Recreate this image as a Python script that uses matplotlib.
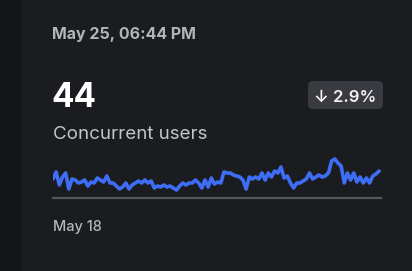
import matplotlib
matplotlib.use("Agg")
import matplotlib.pyplot as plt
from matplotlib.patches import FancyBboxPatch, Rectangle

# concurrent users over the last week (one point every ~1.7 h)
users = [31.5, 42, 22.5, 34.5, 40.5, 16.5, 31.5, 30, 25.5, 27,
         30, 21, 27, 25.5, 33, 30, 27, 36, 25.5, 25.5,
         21, 16.5, 19.5, 25.5, 16.5, 22.5, 25.5, 28.5, 25.5, 30,
         25.5, 28.5, 18, 21, 19.5, 22.5, 19.5, 21, 18, 15,
         21, 25.5, 22.5, 25.5, 25.5, 30, 25.5, 18, 30, 19.5,
         33, 24, 27, 25.5, 42, 40.5, 40.5, 37.5, 36, 34.5,
         30, 16.5, 34.5, 31.5, 34.5, 31.5, 40.5, 30, 40.5, 34.5,
         43.5, 40.5, 49.5, 33, 36, 25.5, 18, 25.5, 25.5, 28.5,
         31.5, 40.5, 31.5, 34.5, 37.5, 34.5, 36, 40.5, 58.5, 61.5,
         55.5, 51, 25.5, 40.5, 30, 40.5, 27, 34.5, 25.5, 33,
         25.5, 36, 39, 43.5]
timestamp = "May 25, 06:44 PM"
current_value = "44"
metric_name = "Concurrent users"
change_label = "\u2193 2.9%"
start_label = "May 18"

W, H = 412, 271
fig = plt.figure(figsize=(W / 100, H / 100), dpi=100)
fig.patch.set_facecolor("#141519")

# card background
card = FancyBboxPatch((21 / W, -0.2), 1.0, 1.25, boxstyle="round,pad=0,rounding_size=0.04",
                      transform=fig.transFigure, facecolor="#1b1c20", edgecolor="none",
                      mutation_aspect=W / H, zorder=-10)
fig.patches.append(card)

def fy(px):
    return 1 - px / H

fig.text(52 / W, fy(39), timestamp, fontsize=11.5, fontweight="bold", color="#b4b5b9",
         family=["Inter", "DejaVu Sans"], va="baseline", ha="left")
fig.text(51 / W, fy(107), current_value, fontsize=24, fontweight="bold", color="#ffffff",
         family=["Inter", "DejaVu Sans"], va="baseline", ha="left")
fig.text(53 / W, fy(139), metric_name, fontsize=13.5, color="#c4c5c9",
         family=["Inter", "DejaVu Sans"], va="baseline", ha="left")
fig.text(53 / W, fy(231), start_label, fontsize=10.5, fontweight="medium", color="#b4b5b9",
         family=["Inter", "DejaVu Sans"], va="baseline", ha="left")

# change badge
badge = FancyBboxPatch((308 / W, fy(109)), 75 / W, 28 / H,
                       boxstyle="round,pad=0,rounding_size=0.012",
                       transform=fig.transFigure, facecolor="#3a3b40", edgecolor="none",
                       mutation_aspect=W / H, zorder=-5)
fig.patches.append(badge)
fig.text(345.5 / W, fy(102), change_label, fontsize=12, fontweight="semibold", color="#f2f2f4",
         family=["Inter", "DejaVu Sans"], va="baseline", ha="center")

# sparkline
ax = fig.add_axes([53 / W, fy(198), 328 / W, 43 / H])
ax.set_facecolor("none")
n = len(users)
ax.plot(range(n), users, color="#3d6ef5", lw=2.6, solid_joinstyle="round", solid_capstyle="round")
ax.set_xlim(0, n - 1 + 0.6)
ax.set_ylim(3, 67.5)
for s in ["top", "left", "right"]:
    ax.spines[s].set_visible(False)
ax.spines["bottom"].set_color("#55565b")
ax.spines["bottom"].set_linewidth(1.6)
ax.set_xticks([])
ax.set_yticks([])

fig.savefig("out.png", dpi=100, facecolor=fig.get_facecolor())
